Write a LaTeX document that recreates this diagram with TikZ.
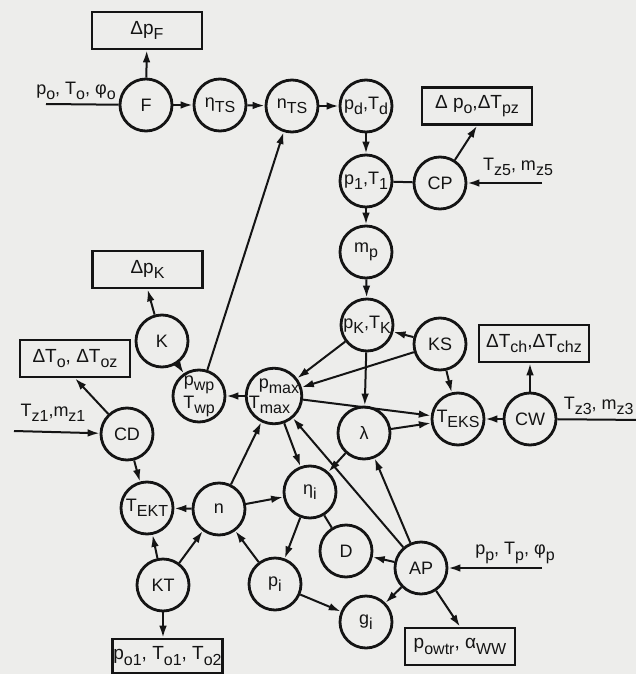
\documentclass[tikz,border=0pt]{standalone}
\usepackage{fontspec}
\setmainfont{Liberation Sans}
\usetikzlibrary{arrows.meta}
\newcommand\lo[1]{\raisebox{-0.55ex}{\fontsize{8}{8}\selectfont #1}}
\definecolor{paper}{RGB}{237,237,235}
\definecolor{ink}{RGB}{20,20,20}
\begin{document}
\begin{tikzpicture}[x=0.5pt,y=-0.5pt,
  circ/.style={circle, draw=ink, line width=1.4pt, minimum size=26pt, inner sep=-1pt,
    text=ink, font=\fontsize{9}{8.5}\selectfont, align=center},
  outbox/.style={rectangle, draw=ink, line width=1.3pt, minimum width=55pt,
    minimum height=18.5pt, inner sep=0pt, text=ink, font=\fontsize{9.5}{10}\selectfont},
  lbl/.style={inner sep=0pt, text=ink, font=\fontsize{9}{10}\selectfont},
  arr/.style={draw=ink, line width=1pt, -{Latex[length=6pt,width=3.8pt]}},
  link/.style={draw=ink, line width=1pt}]
\fill[paper] (0,0) rectangle (636,674);
\useasboundingbox (0,0) rectangle (636,674);

% circles
\node[circ] (F) at (146,105) {F};
\node[circ] (etaTS) at (220,105) {η\lo{TS}};
\node[circ] (nTS) at (292,106) {n\lo{TS}};
\node[circ] (pd) at (366,106) {p\lo{d},T\lo{d}};
\node[circ] (p1) at (366,181) {p\lo{1},T\lo{1}};
\node[circ] (CP) at (440,183) {CP};
\node[circ] (mp) at (366,252) {m\lo{p}};
\node[circ] (pK) at (367,325) {p\lo{K},T\lo{K}};
\node[circ] (KS) at (440,344) {KS};
\node[circ] (TEKS) at (458,419) {T\lo{EKS}};
\node[circ] (CW) at (530,419) {CW};
\node[circ] (lam) at (364,433) {λ};
\node[circ, align=left] (pmax) at (274,396) {\hspace*{5pt}p\lo{max}\\T\lo{max}};
\node[circ] (pwp) at (199,396) {p\lo{wp}\\T\lo{wp}};
\node[circ] (K) at (162,341) {K};
\node[circ] (CD) at (127,434) {CD};
\node[circ] (TEKT) at (147,508) {T\lo{EKT}};
\node[circ] (n) at (219,509) {n};
\node[circ] (KT) at (163,585) {KT};
\node[circ] (pi) at (275,584) {p\lo{i}};
\node[circ] (etai) at (310,492) {η\lo{i}};
\node[circ] (D) at (346,551) {D};
\node[circ] (AP) at (421,568) {AP};
\node[circ] (gi) at (366,622) {g\lo{i}};

% output boxes
\node[outbox] (dpF) at (147,30.5) {Δp\lo{F}};
\node[outbox] (dpo) at (477,106) {Δ p\lo{o},ΔT\lo{pz}};
\node[outbox] (dTch) at (534,343.5) {ΔT\lo{ch},ΔT\lo{chz}};
\node[outbox] (dpK) at (147.5,269.5) {Δp\lo{K}};
\node[outbox] (dTo) at (75,358.5) {ΔT\lo{o}, ΔT\lo{oz}};
\node[outbox, minimum height=17pt] (po1) at (167.5,656) {p\lo{o1}, T\lo{o1}, T\lo{o2}};
\node[outbox] (powtr) at (460,646.5) {p\lo{owtr}, α\lo{WW}};

% inputs
\coordinate (inF) at (46,104);
\node[lbl] (lF) at (76,91) {p\lo{o}, T\lo{o}, φ\lo{o}};
\draw[link] (inF) -- (F);
\coordinate (inCP) at (542,183);
\node[lbl] (lCP) at (518,167) {T\lo{z5}, m\lo{z5}};
\draw[arr] (inCP) -- (CP);
\coordinate (inCW) at (645,420);
\node[lbl, anchor=east] (lCW) at (634,406) {T\lo{z3}, m\lo{z3}};
\draw[link] (CW) -- (inCW);
\coordinate (inCD) at (14,431);
\node[lbl] (lCD) at (53,413) {T\lo{z1},m\lo{z1}};
\draw[arr] (inCD) -- (CD);
\coordinate (inAP) at (542,568);
\node[lbl] (lAP) at (515,553) {p\lo{p}, T\lo{p}, φ\lo{p}};
\draw[arr] (inAP) -- (AP);

% outputs
\draw[arr] (F) -- (dpF);
\draw[arr] (CP) -- (dpo.south);
\draw[arr] (CW) -- (CW |- dTch.south);
\draw[arr] (K) -- (dpK.south);
\draw[arr] (CD) -- (dTo.south);
\draw[arr] (KT) -- (KT |- po1.north);
\draw[arr] (AP) -- (powtr.north);

% chain
\draw[arr] (F) -- (etaTS);
\draw[arr] (etaTS) -- (nTS);
\draw[arr] (nTS) -- (pd);
\draw[arr] (pd) -- (p1);
\draw[arr] (p1) -- (mp);
\draw[link] (p1) -- (CP);
\draw[arr] (mp) -- (pK);
\draw[arr] (KS) -- (pK);
\draw[arr] (pK) -- (pmax);
\draw[arr] (KS) -- (pmax);
\draw[arr] (pK) -- (lam);
\draw[arr] (pmax) -- (TEKS);
\draw[arr] (KS) -- (TEKS);
\draw[arr] (lam) -- (TEKS);
\draw[arr] (CW) -- (TEKS);
\draw[arr] (pmax) -- (pwp);
\draw[arr] (pwp) -- (nTS);
\draw[arr] (K) -- (pwp);
\draw[arr] (CD) -- (TEKT);
\draw[arr] (n) -- (TEKT);
\draw[arr] (KT) -- (TEKT);
\draw[arr] (KT) -- (n);
\draw[arr] (n) -- (pmax);
\draw[arr] (n) -- (etai);
\draw[arr] (pi) -- (n);
\draw[arr] (pmax) -- (etai);
\draw[arr] (AP) -- (pmax);
\draw[arr] (AP) -- (lam);
\draw[arr] (lam) -- (etai);
\draw[arr] (etai) -- (pi);
\draw[link] (etai) -- (D);
\draw[arr] (AP) -- (D);
\draw[arr] (AP) -- (gi);
\draw[arr] (pi) -- (gi);
\end{tikzpicture}
\end{document}
